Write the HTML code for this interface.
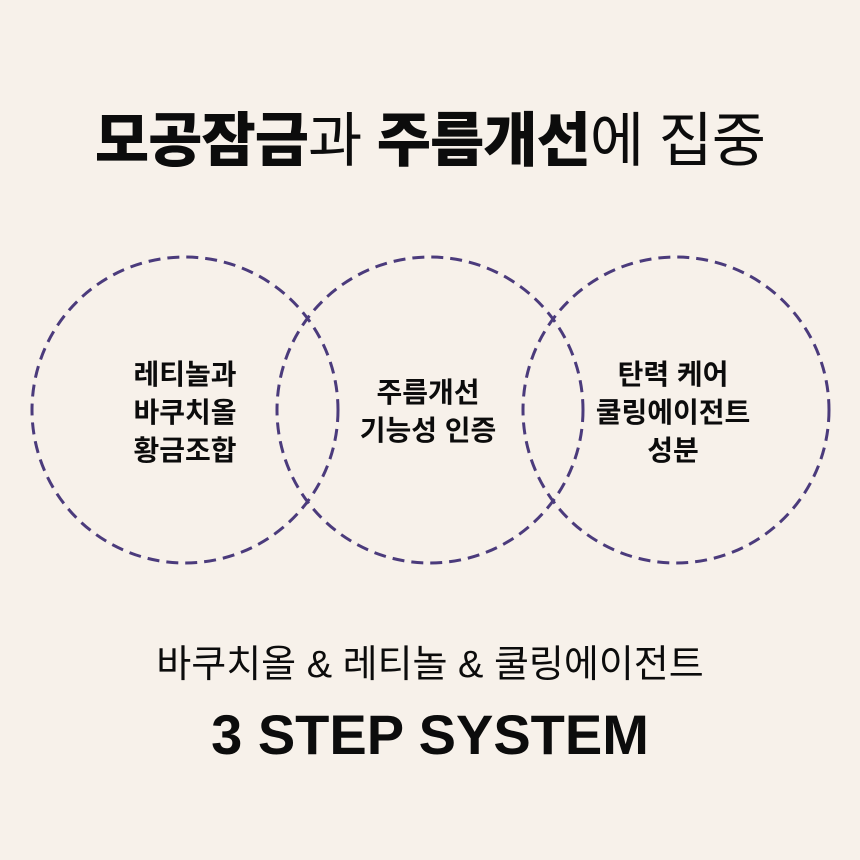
<!DOCTYPE html>
<html><head><meta charset="utf-8"><style>
html,body{margin:0;padding:0}
body{width:860px;height:860px;background:#f7f1ea;position:relative;overflow:hidden;font-family:"Liberation Sans","Noto Sans CJK KR",sans-serif;color:#0c0c0c}
.t{position:absolute;left:0;width:860px;text-align:center;white-space:nowrap}
.c{position:absolute;text-align:center;font-weight:bold;font-size:28px;line-height:38px;width:240px;white-space:nowrap}
</style></head><body>
<div class="t" style="top:106px;font-size:59px;line-height:70px;letter-spacing:-1px"><b style="font-weight:900">모공잠금</b>과 <b style="font-weight:900">주름개선</b>에 집중</div>
<svg style="position:absolute;left:0;top:0" width="860" height="860">
<g fill="none" stroke="#4b3b7c" stroke-width="3" stroke-dasharray="12 7">
<circle cx="185" cy="410" r="153"/>
<circle cx="430" cy="410" r="153"/>
<circle cx="676" cy="410" r="153"/>
</g></svg>
<div class="c" style="left:65px;top:356px">레티놀과<br>바쿠치올<br>황금조합</div>
<div class="c" style="left:308px;top:374px">주름개선<br>기능성 인증</div>
<div class="c" style="left:553px;top:356px">탄력 케어<br>쿨링에이전트<br>성분</div>
<div class="t" style="top:640px;font-size:38px;line-height:50px">바쿠치올 &amp; 레티놀 &amp; 쿨링에이전트</div>
<div class="t" style="top:702px;font-size:56px;line-height:66px;font-weight:bold">3 STEP SYSTEM</div>
</body></html>
